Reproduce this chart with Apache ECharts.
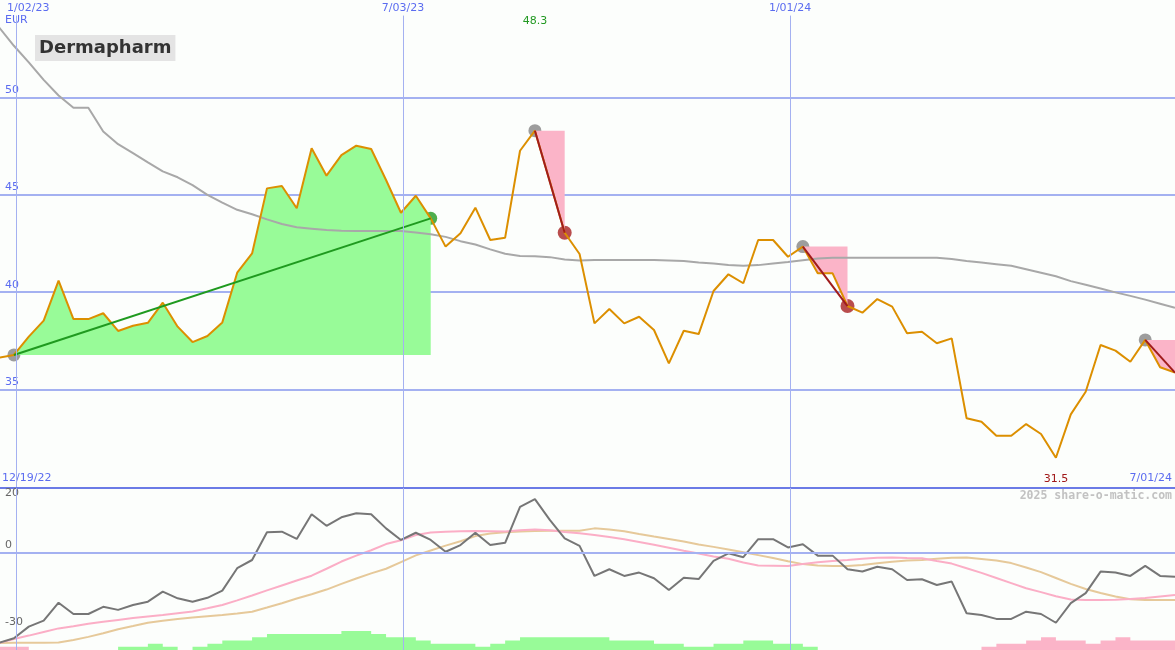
<!DOCTYPE html>
<html><head><meta charset="utf-8">
<script src="https://cdn.jsdelivr.net/npm/echarts@6/dist/echarts.min.js"></script>
<style>html,body{margin:0;padding:0;background:#fcfefc}#c{width:1175px;height:650px}</style>
</head><body><div id="c"></div>
<script>
// ---------- DATA ----------
const dates = [
 '2022-12-25','2023-01-01','2023-01-08','2023-01-15','2023-01-22','2023-01-29','2023-02-05','2023-02-12','2023-02-19','2023-02-26',
 '2023-03-05','2023-03-12','2023-03-19','2023-03-26','2023-04-02','2023-04-09','2023-04-16','2023-04-23','2023-04-30','2023-05-07',
 '2023-05-14','2023-05-21','2023-05-28','2023-06-04','2023-06-11','2023-06-18','2023-06-25','2023-07-02','2023-07-09','2023-07-16',
 '2023-07-23','2023-07-30','2023-08-06','2023-08-13','2023-08-20','2023-08-27','2023-09-03','2023-09-10','2023-09-17','2023-09-24',
 '2023-10-01','2023-10-08','2023-10-15','2023-10-22','2023-10-29','2023-11-05','2023-11-12','2023-11-19','2023-11-26','2023-12-03',
 '2023-12-10','2023-12-17','2023-12-24','2023-12-31','2024-01-07','2024-01-14','2024-01-21','2024-01-28','2024-02-04','2024-02-11',
 '2024-02-18','2024-02-25','2024-03-03','2024-03-10','2024-03-17','2024-03-24','2024-03-31','2024-04-07','2024-04-14','2024-04-21',
 '2024-04-28','2024-05-05','2024-05-12','2024-05-19','2024-05-26','2024-06-02','2024-06-09','2024-06-16','2024-06-23','2024-06-30'
];
const price = [
 36.64,36.78,37.72,38.54,40.59,38.62,38.62,38.92,38.01,38.28,
 38.43,39.46,38.23,37.44,37.75,38.45,41.0,41.99,45.33,45.45,
 44.31,47.39,45.98,47.04,47.52,47.35,45.76,44.08,44.95,43.79,
 42.34,43.02,44.34,42.68,42.80,47.26,48.29,45.7,43.05,41.96,
 38.40,39.14,38.40,38.74,38.06,36.35,38.02,37.85,40.06,40.92,
 40.46,42.68,42.68,41.82,42.34,40.97,40.97,39.29,38.95,39.65,
 39.26,37.89,37.97,37.38,37.63,33.53,33.35,32.63,32.63,33.23,
 32.72,31.50,33.73,34.89,37.29,37.0,36.43,37.55,36.15,35.87
];
const movingAvg = [
 53.6,52.65,51.8,50.9,50.1,49.47,49.47,48.25,47.6,47.14,
 46.66,46.2,45.9,45.5,45.0,44.6,44.23,44.0,43.74,43.5,
 43.33,43.26,43.19,43.16,43.14,43.14,43.14,43.14,43.06,42.98,
 42.84,42.62,42.45,42.2,41.97,41.86,41.84,41.8,41.68,41.63,
 41.65,41.65,41.65,41.65,41.65,41.63,41.6,41.53,41.47,41.4,
 41.36,41.39,41.47,41.55,41.64,41.73,41.77,41.77,41.77,41.77,
 41.77,41.77,41.77,41.77,41.7,41.6,41.52,41.44,41.36,41.18,
 41.0,40.82,40.57,40.38,40.19,39.99,39.81,39.62,39.41,39.2
];
const oscGray = [
 -35.2,-33.4,-28.9,-26.6,-19.6,-24.0,-24.0,-21.2,-22.4,-20.5,
 -19.2,-15.3,-17.9,-19.2,-17.7,-14.9,-6.2,-3.0,7.8,8.0,
 5.2,14.8,10.3,13.6,15.2,14.8,9.3,4.8,7.6,4.8,
 0.2,2.8,7.6,2.8,3.7,17.7,20.7,12.6,5.4,2.5,
 -9.2,-6.6,-9.2,-7.9,-10.1,-14.7,-9.9,-10.4,-3.3,-0.4,
 -1.9,5.1,5.1,1.9,3.1,-1.3,-1.3,-6.6,-7.5,-5.6,
 -6.6,-10.8,-10.5,-12.7,-11.4,-23.7,-24.4,-25.9,-25.9,-23.1,
 -24.0,-27.4,-19.8,-15.9,-7.5,-7.9,-9.2,-5.3,-9.2,-9.5
];
const oscPink = [
 -35.3,-33.7,-32.4,-31.0,-29.6,-28.8,-27.8,-27.0,-26.3,-25.6,
 -25.0,-24.4,-23.7,-23.0,-21.8,-20.5,-18.7,-16.8,-14.8,-12.9,
 -11.0,-9.1,-6.4,-3.6,-1.3,0.8,3.2,4.7,6.7,7.7,
 8.0,8.2,8.3,8.2,8.1,8.6,8.9,8.6,7.9,7.4,
 6.7,5.9,5.1,4.0,2.9,1.8,0.6,-0.5,-1.6,-2.5,
 -4.0,-5.1,-5.2,-5.3,-4.6,-3.9,-3.4,-3.0,-2.5,-2.1,
 -2.0,-2.2,-2.3,-3.4,-4.4,-6.2,-8.0,-10.0,-12.0,-14.0,
 -15.5,-17.1,-18.4,-18.6,-18.6,-18.5,-18.2,-17.8,-17.2,-16.6
];
const oscTan = [
 -35.3,-35.2,-35.2,-35.2,-35.1,-34.1,-32.9,-31.5,-29.9,-28.7,
 -27.4,-26.6,-25.9,-25.4,-24.9,-24.4,-23.8,-23.1,-21.5,-19.8,
 -18.0,-16.3,-14.5,-12.3,-10.2,-8.2,-6.4,-3.8,-1.2,0.7,
 2.6,4.3,6.3,7.3,7.8,8.1,8.3,8.4,8.4,8.4,
 9.3,8.9,8.2,7.1,6.1,5.2,4.2,3.0,2.1,1.1,
 0.0,-1.1,-2.2,-3.5,-4.6,-5.1,-5.3,-5.3,-4.9,-4.3,
 -3.7,-3.2,-3.0,-2.5,-2.1,-2.0,-2.6,-3.2,-4.2,-5.9,
 -7.7,-10.0,-12.3,-14.3,-15.8,-17.2,-18.3,-18.6,-18.6,-18.6
];
// signed signal strength: positive = green block, negative = pink block
const signalLevels = [
 -1,-1,0,0,0,0,0,0,1,1,
 2,1,0,1,2,3,3,4,5,5,
 5,5,5,6,6,5,4,4,3,2,
 2,2,1,2,3,4,4,4,4,4,
 4,3,3,3,2,2,1,1,2,2,
 3,3,2,2,1,0,0,0,0,0,
 0,0,0,0,0,0,-1,-2,-2,-3,
 -4,-3,-3,-2,-3,-4,-3,-3,-3,-3
];
const rallyIdx = [1, 29];                 // start, end index of the rising segment
const dropIdx = [[36, 38], [54, 57], [77, 79]];  // start, end index of falling segments
const gridDates = ['2023-01-02', '2023-07-03', '2024-01-01'];
const gridDateLabels = ['1/02/23', '7/03/23', '1/01/24'];
const rangeLabels = ['12/19/22', '7/01/24'];
const oscTicks = [20, 0, -30];

// ---------- HELPERS ----------
const t = s => { const [y, m, d] = s.split('-').map(Number); return new Date(y, m - 1, d).getTime(); };
const X0 = new Date(2022, 11, 25, 11).getTime();
const X1 = new Date(2024, 5, 30, 0).getTime();
const pt = i => [t(dates[i]), price[i]];
const span = (a, b) => { const r = []; for (let i = a; i <= b; i++) r.push(pt(i)); return r; };
const series = (arr) => dates.map((d, i) => [t(d), arr[i]]);
let maxI = 0, minI = 0;
price.forEach((v, i) => { if (v > price[maxI]) maxI = i; if (v < price[minI]) minI = i; });

const BLUE_TXT = '#5b6cf0', GRID = '#a4b1f1';
const FONT = 'DejaVu Sans';

const s = [];
// vertical grid lines, top panel
s.push({ type: 'line', xAxisIndex: 0, yAxisIndex: 0, data: [], z: 1, silent: true,
  markLine: { symbol: 'none', silent: true, animation: false,
    lineStyle: { color: GRID, width: 1, type: 'solid' },
    label: { show: true, position: 'end', distance: 2, color: BLUE_TXT, fontSize: 11, fontFamily: FONT, formatter: '{b}' },
    emphasis: { disabled: true },
    data: gridDates.map((d, i) => [
      { coord: [t(d), 30], name: gridDateLabels[i], label: i === 0 ? { align: 'left', offset: [-9, 0] } : {} },
      { coord: [t(d), 54.2] }]) } });
// vertical grid lines + zero line, lower panel
s.push({ type: 'line', xAxisIndex: 1, yAxisIndex: 1, data: [], z: 1, silent: true,
  markLine: { symbol: 'none', silent: true, animation: false, label: { show: false },
    emphasis: { disabled: true },
    data: gridDates.map(d => [{ coord: [t(d), -38], lineStyle: { color: GRID, width: 1, type: 'solid' } }, { coord: [t(d), 25] }])
      .concat([[{ coord: [X0, 0], lineStyle: { color: GRID, width: 2, type: 'solid' } }, { coord: [X1, 0] }]]) } });

// gray start markers (under fills)
s.push({ type: 'scatter', xAxisIndex: 0, yAxisIndex: 0, symbolSize: 13, z: 2, silent: true,
  itemStyle: { color: '#858585' }, data: [pt(rallyIdx[0])].concat(dropIdx.map(d => pt(d[0]))) });
// green rally fill
s.push({ type: 'line', xAxisIndex: 0, yAxisIndex: 0, data: span(rallyIdx[0], rallyIdx[1]), symbol: 'none', silent: true,
  lineStyle: { width: 0 }, areaStyle: { color: '#98fb98', opacity: 1, origin: price[rallyIdx[0]] } });
// pink drop fills
dropIdx.forEach(d => s.push({ type: 'line', xAxisIndex: 0, yAxisIndex: 0, data: span(d[0], d[1]), symbol: 'none', silent: true,
  lineStyle: { width: 0 }, areaStyle: { color: '#fbb4c8', opacity: 1, origin: price[d[0]] } }));
// moving average
s.push({ type: 'line', xAxisIndex: 0, yAxisIndex: 0, data: series(movingAvg), symbol: 'none', silent: true,
  lineStyle: { color: '#a8a8a8', width: 2 } });
// price
s.push({ type: 'line', xAxisIndex: 0, yAxisIndex: 0, data: series(price), symbol: 'none', silent: true,
  lineStyle: { color: '#dc8f00', width: 2 },
  markPoint: { symbol: 'circle', symbolSize: 0, silent: true, animation: false,
    label: { show: true, position: 'inside', fontSize: 11, fontFamily: FONT, formatter: '{c}' },
    data: [
      { coord: [t(dates[maxI]), 53.9], value: price[maxI].toFixed(1), label: { color: '#229922' } },
      { coord: [t(dates[minI]), 30.42], value: price[minI].toFixed(1), label: { color: '#a01818' } }
    ] } });
// trend lines
s.push({ type: 'line', xAxisIndex: 0, yAxisIndex: 0, data: [pt(rallyIdx[0]), pt(rallyIdx[1])], symbol: 'none', silent: true,
  lineStyle: { color: '#1f9a1f', width: 2 } });
dropIdx.forEach(d => s.push({ type: 'line', xAxisIndex: 0, yAxisIndex: 0, data: [pt(d[0]), pt(d[1])], symbol: 'none', silent: true,
  lineStyle: { color: '#a01c1c', width: 2 } }));
// end markers
s.push({ type: 'scatter', xAxisIndex: 0, yAxisIndex: 0, symbolSize: 13, silent: true, itemStyle: { color: '#229a22' }, data: [pt(rallyIdx[1])] });
s.push({ type: 'scatter', xAxisIndex: 0, yAxisIndex: 0, symbolSize: 14, silent: true, itemStyle: { color: '#a82020' },
  data: dropIdx.filter(d => d[1] < dates.length - 1).map(d => pt(d[1])) });

// lower panel signal blocks
s.push({ type: 'line', xAxisIndex: 1, yAxisIndex: 2, step: 'end', symbol: 'none', silent: true, lineStyle: { width: 0 },
  areaStyle: { color: '#98fb98', opacity: 1 }, data: series(signalLevels.map(v => v > 0 ? v : 0)) });
s.push({ type: 'line', xAxisIndex: 1, yAxisIndex: 2, step: 'end', symbol: 'none', silent: true, lineStyle: { width: 0 },
  areaStyle: { color: '#fbb4c8', opacity: 1 }, data: series(signalLevels.map(v => v < 0 ? -v : 0)) });
// oscillators
s.push({ type: 'line', xAxisIndex: 1, yAxisIndex: 1, data: series(oscTan), symbol: 'none', silent: true, lineStyle: { color: '#e6c99a', width: 2 } });
s.push({ type: 'line', xAxisIndex: 1, yAxisIndex: 1, data: series(oscPink), symbol: 'none', silent: true, lineStyle: { color: '#fbaec6', width: 2 } });
s.push({ type: 'line', xAxisIndex: 1, yAxisIndex: 1, data: series(oscGray), symbol: 'none', silent: true, lineStyle: { color: '#767676', width: 2 } });

const option = {
  animation: false,
  backgroundColor: '#fcfefc',
  title: { text: 'Dermapharm', left: 35, top: 35, padding: [4, 4, 4, 4], backgroundColor: '#e4e4e4',
    textStyle: { fontFamily: FONT, fontWeight: 'bold', fontSize: 18, lineHeight: 18, color: '#333333' } },
  grid: [{ left: 0, right: 0, top: 0, height: 487 }, { left: 0, right: 0, top: 488, bottom: 0 }],
  xAxis: [
    { type: 'time', gridIndex: 0, min: X0, max: X1, axisLine: { show: false }, axisTick: { show: false }, axisLabel: { show: false }, splitLine: { show: false } },
    { type: 'time', gridIndex: 1, min: X0, max: X1, position: 'top', axisLine: { show: true, onZero: false, lineStyle: { color: '#6b7be6', width: 2 } },
      axisTick: { show: false }, axisLabel: { show: false }, splitLine: { show: false } }
  ],
  yAxis: [
    { type: 'value', gridIndex: 0, min: 30, max: 55, interval: 5, axisLine: { show: false }, axisTick: { show: false },
      axisLabel: { inside: true, margin: 5, verticalAlign: 'bottom', padding: [0, 0, 2, 0], color: BLUE_TXT, fontSize: 11, fontFamily: FONT, showMinLabel: false, showMaxLabel: false },
      splitLine: { show: true, showMinLine: false, showMaxLine: false, lineStyle: { color: GRID, width: 2 } } },
    { type: 'value', gridIndex: 1, min: -38, max: 25, axisLine: { show: false }, axisTick: { show: false },
      axisLabel: { inside: true, margin: 5, verticalAlign: 'bottom', padding: [0, 0, 2, 0], color: '#666', fontSize: 11, fontFamily: FONT, customValues: oscTicks },
      splitLine: { show: false } },
    { type: 'value', gridIndex: 1, min: 0, max: 51, show: false }
  ],
  graphic: [
    { type: 'text', left: 5, top: 15, style: { text: 'EUR', fill: BLUE_TXT, font: '11px "DejaVu Sans"' } },
    { type: 'text', left: 2, top: 473, style: { text: rangeLabels[0], fill: BLUE_TXT, font: '11px "DejaVu Sans"' } },
    { type: 'text', right: 3, top: 473, style: { text: rangeLabels[1], fill: BLUE_TXT, font: '11px "DejaVu Sans"' } },
    { type: 'text', right: 3, top: 490, style: { text: '2025 share-o-matic.com', fill: '#c2c2c2', font: 'bold 11.5px "DejaVu Sans Mono"' } }
  ],
  series: s
};
echarts.init(document.getElementById('c'), null, { renderer: 'canvas' }).setOption(option);
</script>
</body></html>
